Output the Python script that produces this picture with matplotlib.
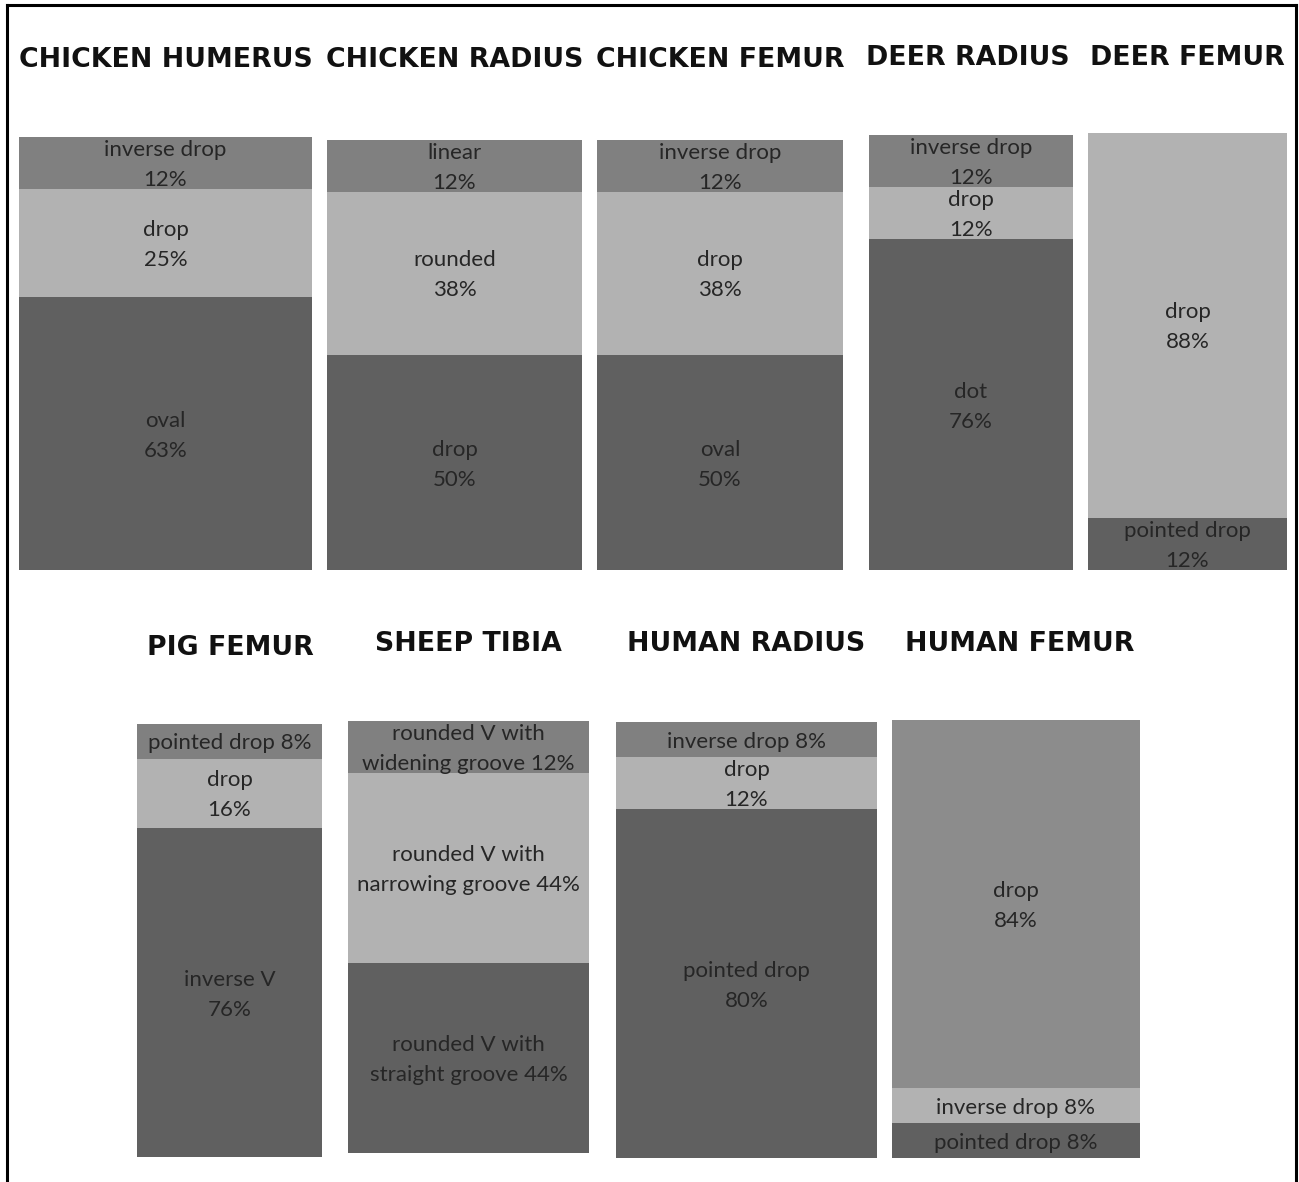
import matplotlib
matplotlib.use("Agg")
import matplotlib.pyplot as plt
from matplotlib.lines import Line2D

# ---------------- data ----------------
titles = ["CHICKEN HUMERUS", "CHICKEN RADIUS", "CHICKEN FEMUR", "DEER RADIUS",
          "DEER FEMUR", "PIG FEMUR", "SHEEP TIBIA", "HUMAN RADIUS", "HUMAN FEMUR"]

chicken_humerus_labels = ["inverse drop\n12%", "drop\n25%", "oval\n63%"]
chicken_humerus_values = [12, 25, 63]

chicken_radius_labels = ["linear\n12%", "rounded\n38%", "drop\n50%"]
chicken_radius_values = [12, 38, 50]

chicken_femur_labels = ["inverse drop\n12%", "drop\n38%", "oval\n50%"]
chicken_femur_values = [12, 38, 50]

deer_radius_labels = ["inverse drop\n12%", "drop\n12%", "dot\n76%"]
deer_radius_values = [12, 12, 76]

deer_femur_labels = ["drop\n88%", "pointed drop\n12%"]
deer_femur_values = [88, 12]

pig_femur_labels = ["pointed drop 8%", "drop\n16%", "inverse V\n76%"]
pig_femur_values = [8, 16, 76]

sheep_tibia_labels = ["rounded V with\nwidening groove 12%",
                      "rounded V with\nnarrowing groove 44%",
                      "rounded V with\nstraight groove 44%"]
sheep_tibia_values = [12, 44, 44]

human_radius_labels = ["inverse drop 8%", "drop\n12%", "pointed drop\n80%"]
human_radius_values = [8, 12, 80]

human_femur_labels = ["drop\n84%", "inverse drop 8%", "pointed drop 8%"]
human_femur_values = [84, 8, 8]

panel_labels = [chicken_humerus_labels, chicken_radius_labels, chicken_femur_labels,
                deer_radius_labels, deer_femur_labels, pig_femur_labels,
                sheep_tibia_labels, human_radius_labels, human_femur_labels]
panel_values = [chicken_humerus_values, chicken_radius_values, chicken_femur_values,
                deer_radius_values, deer_femur_values, pig_femur_values,
                sheep_tibia_values, human_radius_values, human_femur_values]

# ---------------- style / layout ----------------
DARK, MID, LIGHT, MID2 = "#606060", "#808080", "#b2b2b2", "#8c8c8c"
panel_colors = [
    [MID, LIGHT, DARK], [MID, LIGHT, DARK], [MID, LIGHT, DARK], [MID, LIGHT, DARK],
    [LIGHT, DARK], [MID, LIGHT, DARK], [MID, LIGHT, DARK], [MID, LIGHT, DARK],
    [MID2, LIGHT, DARK],
]
# pixel boxes (x0, y0, x1, y1), top-left origin
boxes = [
    (19, 137, 312, 570), (327, 140, 582, 570), (597, 140, 843, 570),
    (869, 135, 1073, 570), (1088, 133, 1287, 570),
    (137, 724, 322, 1157), (348, 721, 589, 1153), (616, 722, 877, 1158),
    (892, 720, 1140, 1158),
]
title_pos = [(166, 60), (455, 60), (720, 60), (968, 58), (1187, 58),
             (230, 648), (468, 644), (746, 644), (1020, 644)]

W, H = 1299, 1182
fig = plt.figure(figsize=(W / 100, H / 100), dpi=100)
fig.patch.set_facecolor("white")

TEXT_C = "#262626"
for labels, values, colors, box, title, tpos in zip(panel_labels, panel_values,
                                                     panel_colors, boxes, titles, title_pos):
    x0, y0, x1, y1 = box
    ax = fig.add_axes([x0 / W, 1 - y1 / H, (x1 - x0) / W, (y1 - y0) / H])
    bottom = 0
    for lab, v, c in zip(labels, values, colors):
        ax.bar(0, v, bottom=bottom, width=1.0, color=c, edgecolor="none")
        ax.annotate(lab, xy=(0, bottom + v / 2), xytext=(0, -1.5),
                    textcoords="offset points", ha="center", va="center",
                    fontsize=16, family="Lato", color=TEXT_C, linespacing=1.62)
        bottom += v
    ax.set_xlim(-0.5, 0.5)
    ax.set_ylim(bottom, 0)
    ax.axis("off")
    fig.text(tpos[0] / W, 1 - tpos[1] / H, title, ha="center", va="center",
             fontsize=19.3, fontweight="bold", family="DejaVu Sans", color="#111111")

# outer frame (left, top, right)
lw = 2.2
fig.add_artist(Line2D([7 / W, 7 / W], [0, 1 - 5 / H], color="black", lw=lw))
fig.add_artist(Line2D([7 / W, 1296 / W], [1 - 5 / H, 1 - 5 / H], color="black", lw=lw))
fig.add_artist(Line2D([1296 / W, 1296 / W], [0, 1 - 5 / H], color="black", lw=lw))

fig.savefig("out.png", dpi=100, facecolor="white")
